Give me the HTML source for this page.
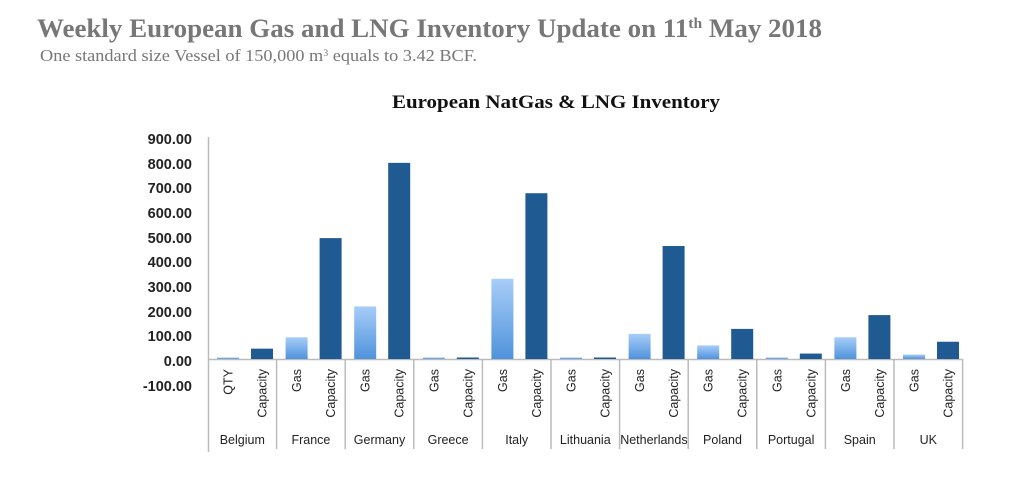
<!DOCTYPE html>
<html><head><meta charset="utf-8"><style>
body{margin:0;background:#fff;width:1024px;height:482px;overflow:hidden}
</style></head><body>
<svg width="1024" height="482" xmlns="http://www.w3.org/2000/svg">
<defs>
<linearGradient id="g" x1="0" y1="0" x2="0" y2="1">
<stop offset="0" stop-color="#a8cdf8"/><stop offset="1" stop-color="#4f93dc"/>
</linearGradient>
</defs>
<text x="37" y="37" font-family="Liberation Serif, serif" font-weight="bold" font-size="26" fill="#777" textLength="785" lengthAdjust="spacingAndGlyphs">Weekly European Gas and LNG Inventory Update on 11<tspan font-size="15" dy="-9">th</tspan><tspan dy="9"> May 2018</tspan></text>
<text x="40" y="61" font-family="Liberation Serif, serif" font-size="16.5" fill="#777" textLength="437" lengthAdjust="spacingAndGlyphs">One standard size Vessel of 150,000 m<tspan font-size="9" dy="-5">3</tspan><tspan dy="5"> equals to 3.42 BCF.</tspan></text>
<text x="556" y="108" text-anchor="middle" font-family="Liberation Serif, serif" font-weight="bold" font-size="19" fill="#111" textLength="328" lengthAdjust="spacingAndGlyphs">European NatGas &amp; LNG Inventory</text>
<g font-family="Liberation Sans, sans-serif" font-weight="bold" font-size="14.5" fill="#222" text-anchor="end">
<text x="192" y="144">900.00</text><text x="192" y="169">800.00</text><text x="192" y="193">700.00</text>
<text x="192" y="218">600.00</text><text x="192" y="243">500.00</text><text x="192" y="267">400.00</text>
<text x="192" y="292">300.00</text><text x="192" y="317">200.00</text><text x="192" y="341">100.00</text>
<text x="192" y="366">0.00</text><text x="192" y="391">-100.00</text>
</g>
<line x1="208.5" y1="137" x2="208.5" y2="452" stroke="#bbb" stroke-width="1.5"/>
<line x1="208" y1="359.5" x2="963" y2="359.5" stroke="#bbb" stroke-width="1.5"/>
<g id="c"></g>
</svg>
<script>
var d=[["Belgium","QTY",3,42],["France","Gas",88,490],["Germany","Gas",213,795],["Greece","Gas",3,5],["Italy","Gas",325,672],["Lithuania","Gas",3,5],["Netherlands","Gas",102,458],["Poland","Gas",55,122],["Portugal","Gas",6,22],["Spain","Gas",88,178],["UK","Gas",18,70]];
var s="",w=68.6,k=0.2467;
d.forEach(function(r,i){var g=208+i*w;
var h1=Math.max(r[2]*k,1.5),h2=Math.max(r[3]*k,1.5);
s+='<rect x="'+(g+9)+'" y="'+(359-h1)+'" width="22" height="'+h1+'" fill="url(#g)"/>';
s+='<rect x="'+(g+43)+'" y="'+(359-h2)+'" width="22" height="'+h2+'" fill="#1f5a93"/>';
s+='<line x1="'+(g+w)+'" y1="359" x2="'+(g+w)+'" y2="449" stroke="#bbb" stroke-width="1.5"/>';
s+='<text transform="translate('+(g+24.5)+',369) rotate(-90)" text-anchor="end" font-family="Liberation Sans, sans-serif" font-size="12.5" fill="#222">'+r[1]+'</text>';
s+='<text transform="translate('+(g+58.5)+',369) rotate(-90)" text-anchor="end" font-family="Liberation Sans, sans-serif" font-size="12.5" fill="#222">Capacity</text>';
s+='<text x="'+(g+w/2)+'" y="444" text-anchor="middle" font-family="Liberation Sans, sans-serif" font-size="12.5" fill="#222">'+r[0]+'</text>';
});
document.getElementById("c").innerHTML=s;
</script>
</body></html>
